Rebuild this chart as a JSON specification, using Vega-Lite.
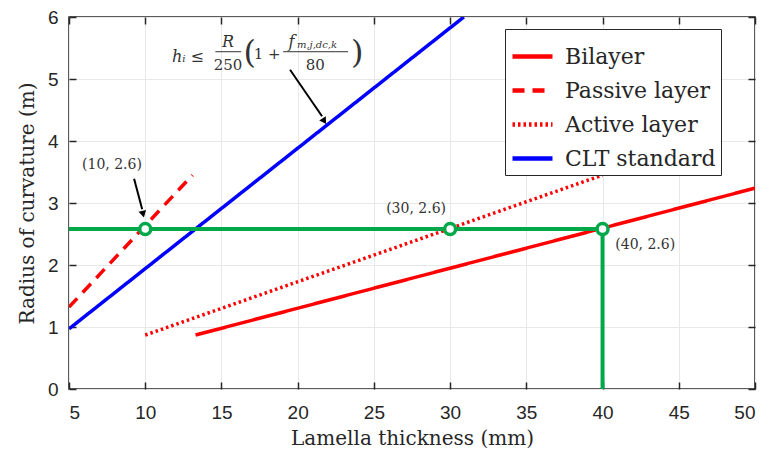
{
  "$schema": "https://vega.github.io/schema/vega-lite/v6.json",
  "width": 686,
  "height": 372,
  "autosize": {"type": "none"},
  "padding": {"left": 69, "top": 17, "right": 14, "bottom": 67},
  "background": "white",
  "config": {
    "view": {"stroke": "#262626", "strokeWidth": 1.5},
    "axis": {
      "labelFont": "Liberation Sans",
      "labelFontSize": 19,
      "labelColor": "#262626",
      "titleFont": "DejaVu Serif",
      "titleFontSize": 20,
      "titleFontWeight": "normal",
      "titleColor": "#262626",
      "gridColor": "#e8e8e8",
      "tickColor": "#262626",
      "tickWidth": 1.5,
      "tickSize": -7,
      "domain": false
    },
    "legend": {
      "labelFont": "DejaVu Serif",
      "labelFontSize": 22,
      "labelColor": "#262626",
      "symbolType": "stroke",
      "symbolSize": 1600,
      "symbolStrokeWidth": 4.5,
      "strokeColor": "#262626",
      "fillColor": "white",
      "padding": 5,
      "rowPadding": -15,
      "labelOffset": 10
    }
  },
  "datasets": {
    "lines": [
      {"series": "Bilayer", "x": 13.3, "y": 0.87},
      {"series": "Bilayer", "x": 50, "y": 3.24},
      {"series": "Passive layer", "x": 5, "y": 1.32},
      {"series": "Passive layer", "x": 13.1, "y": 3.45},
      {"series": "Active layer", "x": 10, "y": 0.87},
      {"series": "Active layer", "x": 40, "y": 3.45},
      {"series": "CLT standard", "x": 5, "y": 0.97},
      {"series": "CLT standard", "x": 30.9, "y": 6.0}
    ],
    "green": [
      {"o": 1, "x": 5, "y": 2.58},
      {"o": 2, "x": 40, "y": 2.58},
      {"o": 3, "x": 40, "y": 0}
    ],
    "pts": [
      {"x": 10, "y": 2.58},
      {"x": 30, "y": 2.58},
      {"x": 40, "y": 2.58}
    ],
    "labels": [
      {"x": 7.82, "y": 3.62, "t": "(10, 2.6)"},
      {"x": 27.77, "y": 2.9, "t": "(30, 2.6)"},
      {"x": 42.8, "y": 2.33, "t": "(40, 2.6)"}
    ],
    "arrows": [
      {"x": 9.27, "y": 3.39, "x2": 9.8, "y2": 2.9},
      {"x": 19.5, "y": 5.15, "x2": 21.6, "y2": 4.4}
    ]
  },
  "resolve": {"axis": {"x": "independent", "y": "independent"}},
  "layer": [
    {
      "data": {"name": "lines"},
      "mark": {"type": "line", "strokeWidth": 3.5, "clip": true},
      "encoding": {
        "x": {"field": "x", "type": "quantitative", "scale": {"domain": [5, 50], "nice": false, "zero": false},
              "axis": {"values": [5,10,15,20,25,30,35,40,45,50], "title": "Lamella thickness (mm)", "titleFont": "DejaVu Serif", "grid": true, "labelPadding": 21, "titlePadding": 6}},
        "y": {"field": "y", "type": "quantitative", "scale": {"domain": [0, 6], "nice": false, "zero": false},
              "axis": {"values": [0,1,2,3,4,5,6], "title": "Radius of curvature (m)", "titleFont": "DejaVu Serif", "grid": true, "labelPadding": 18, "titlePadding": 10}},
        "color": {"field": "series", "type": "nominal",
          "scale": {"domain": ["Bilayer", "Passive layer", "Active layer", "CLT standard"], "range": ["#ff0000", "#ff0000", "#ff0000", "#0000ff"]},
          "legend": {"title": null, "orient": "none", "legendX": 436, "legendY": 12}},
        "strokeDash": {"field": "series", "type": "nominal",
          "scale": {"domain": ["Bilayer", "Passive layer", "Active layer", "CLT standard"], "range": [[1, 0], [12, 8], [2.5, 3], [1, 0]]},
          "legend": {"title": null, "orient": "none", "legendX": 436, "legendY": 12}}
      }
    },
    {
      "data": {"name": "green"},
      "mark": {"type": "line", "color": "#00a84a", "strokeWidth": 4},
      "encoding": {
        "x": {"field": "x", "type": "quantitative", "scale": {"domain": [5, 50], "nice": false, "zero": false},
              "axis": {"orient": "top", "values": [5,10,15,20,25,30,35,40,45,50], "labels": false, "title": null, "grid": false}},
        "y": {"field": "y", "type": "quantitative", "scale": {"domain": [0, 6], "nice": false, "zero": false},
              "axis": {"orient": "right", "values": [0,1,2,3,4,5,6], "labels": false, "title": null, "grid": false}},
        "order": {"field": "o", "type": "quantitative"}
      }
    },
    {
      "data": {"name": "pts"},
      "mark": {"type": "point", "shape": "circle", "filled": true, "fill": "white", "stroke": "#00a84a", "strokeWidth": 3.5, "size": 120, "opacity": 1},
      "encoding": {
        "x": {"field": "x", "type": "quantitative", "axis": null},
        "y": {"field": "y", "type": "quantitative", "axis": null}
      }
    },
    {
      "data": {"name": "labels"},
      "mark": {"type": "text", "font": "DejaVu Serif", "fontSize": 14, "color": "#333333"},
      "encoding": {
        "x": {"field": "x", "type": "quantitative", "axis": null},
        "y": {"field": "y", "type": "quantitative", "axis": null},
        "text": {"field": "t"}
      }
    },
    {
      "data": {"name": "arrows"},
      "mark": {"type": "rule", "color": "black", "strokeWidth": 2},
      "encoding": {
        "x": {"field": "x", "type": "quantitative", "axis": null},
        "y": {"field": "y", "type": "quantitative", "axis": null},
        "x2": {"field": "x2"},
        "y2": {"field": "y2"}
      }
    },
    {
      "data": {"values": [{"x": 9.86, "y": 2.82}]},
      "mark": {"type": "point", "shape": "triangle-up", "filled": true, "color": "black", "size": 60, "angle": 166, "opacity": 1},
      "encoding": {
        "x": {"field": "x", "type": "quantitative", "axis": null},
        "y": {"field": "y", "type": "quantitative", "axis": null}
      }
    },
    {
      "data": {"values": [{"x": 21.75, "y": 4.32}]},
      "mark": {"type": "point", "shape": "triangle-up", "filled": true, "color": "black", "size": 60, "angle": 147, "opacity": 1},
      "encoding": {
        "x": {"field": "x", "type": "quantitative", "axis": null},
        "y": {"field": "y", "type": "quantitative", "axis": null}
      }
    },
    {
      "data": {"values": [
        {"x": 12.8, "y": 5.36, "t": "hᵢ ≤"},
        {"x": 15.43, "y": 5.6, "t": "R"},
        {"x": 19.6, "y": 5.6, "t": "f"}
      ]},
      "mark": {"type": "text", "font": "DejaVu Serif", "fontStyle": "italic", "fontSize": 16, "color": "#333333"},
      "encoding": {
        "x": {"field": "x", "type": "quantitative", "axis": null},
        "y": {"field": "y", "type": "quantitative", "axis": null},
        "text": {"field": "t"}
      }
    },
    {
      "data": {"values": [
        {"x": 19.95, "y": 5.55, "t": "m,j,dc,k"}
      ]},
      "mark": {"type": "text", "align": "left", "font": "DejaVu Serif", "fontStyle": "italic", "fontSize": 10, "color": "#333333"},
      "encoding": {
        "x": {"field": "x", "type": "quantitative", "axis": null},
        "y": {"field": "y", "type": "quantitative", "axis": null},
        "text": {"field": "t"}
      }
    },
    {
      "data": {"values": [
        {"x": 15.43, "y": 5.23, "t": "250"},
        {"x": 18.0, "y": 5.4, "t": "1 +"},
        {"x": 21.15, "y": 5.23, "t": "80"}
      ]},
      "mark": {"type": "text", "font": "DejaVu Serif", "fontSize": 15, "color": "#333333"},
      "encoding": {
        "x": {"field": "x", "type": "quantitative", "axis": null},
        "y": {"field": "y", "type": "quantitative", "axis": null},
        "text": {"field": "t"}
      }
    },
    {
      "data": {"values": [
        {"x": 16.85, "y": 5.42, "t": "("},
        {"x": 23.9, "y": 5.42, "t": ")"}
      ]},
      "mark": {"type": "text", "font": "DejaVu Serif", "fontSize": 32, "fontWeight": 200, "color": "#333333"},
      "encoding": {
        "x": {"field": "x", "type": "quantitative", "axis": null},
        "y": {"field": "y", "type": "quantitative", "axis": null},
        "text": {"field": "t"}
      }
    },
    {
      "data": {"values": [
        {"x": 14.6, "x2": 16.3, "y": 5.44},
        {"x": 19.05, "x2": 23.3, "y": 5.44}
      ]},
      "mark": {"type": "rule", "color": "#333333", "strokeWidth": 1},
      "encoding": {
        "x": {"field": "x", "type": "quantitative", "axis": null},
        "x2": {"field": "x2"},
        "y": {"field": "y", "type": "quantitative", "axis": null}
      }
    }
  ]
}
